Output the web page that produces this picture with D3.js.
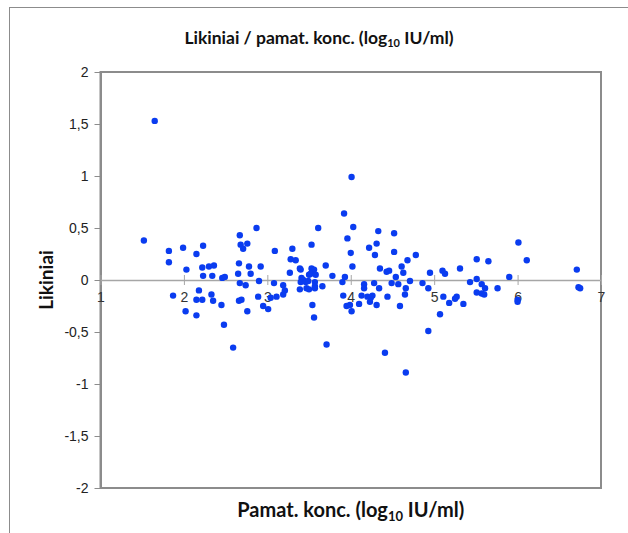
<!DOCTYPE html>
<html>
<head>
<meta charset="utf-8">
<script src="https://cdn.jsdelivr.net/npm/d3@7"></script>
<style>
  body { margin: 0; background: #fff; }
  svg { display: block; font-family: Lato, "Open Sans", sans-serif; }
</style>
</head>
<body>
<svg id="chart"></svg>
<script>
// Pamat. konc. (log10 IU/ml) vs likiniai
const xValues = [
  1.65, 1.52, 1.82, 1.99, 2.23, 2.15, 1.82, 2.03, 2.22, 2.30, 2.36, 2.23, 2.34, 2.46, 2.49,
  2.18, 1.87, 2.33, 2.15, 2.22, 2.35, 2.45, 2.02, 2.15, 2.48, 2.59,
  2.87, 2.67, 2.68, 2.76, 2.71, 3.09, 3.30, 3.53, 3.28, 3.34, 2.66, 2.78, 2.92, 2.65, 2.80,
  3.27, 2.90, 2.67, 2.74, 3.08, 3.19, 3.21, 3.19, 2.89, 2.66, 2.69, 3.04, 3.11, 2.95, 3.01, 2.76,
  3.39, 3.40, 3.53, 3.56, 3.54, 3.70, 3.78, 3.41, 3.43, 3.40, 3.50, 3.52, 3.58, 3.46, 3.49,
  3.57, 3.57, 3.66, 3.39, 3.47, 3.50, 3.57, 3.54, 3.56, 3.71, 3.61,
  4.01, 3.92, 4.03, 3.96, 4.00, 4.02, 3.93, 3.90, 3.91, 3.95, 3.99, 4.01, 4.10, 4.13, 4.20,
  4.24, 4.26, 4.23, 4.31, 4.16, 4.16, 4.28, 4.34, 4.35, 4.29, 4.22, 4.31, 4.33, 4.52, 4.52,
  4.78, 4.68, 4.61, 4.43, 4.46, 4.63, 4.54, 4.49, 4.57, 4.71, 4.86, 4.66, 4.93, 4.95, 5.10,
  5.13, 5.31, 4.44, 4.65, 4.59, 5.11, 5.18, 5.27, 5.25, 5.35, 5.07, 4.93, 4.41, 4.66,
  6.01, 6.11, 5.51, 5.65, 5.90, 5.51, 5.43, 5.57, 5.61, 5.76, 5.51, 5.57, 5.60, 6.00, 6.00,
  6.71, 6.73, 6.75
];
const yValues = [
  1.53, 0.38, 0.28, 0.31, 0.33, 0.25, 0.17, 0.10, 0.12, 0.13, 0.14, 0.04, 0.04, 0.02, 0.03,
  -0.10, -0.15, -0.14, -0.19, -0.19, -0.20, -0.24, -0.30, -0.34, -0.43, -0.65,
  0.50, 0.43, 0.34, 0.35, 0.30, 0.28, 0.30, 0.34, 0.20, 0.19, 0.16, 0.13, 0.13, 0.06, 0.06,
  0.07, -0.01, -0.03, -0.05, -0.03, -0.05, -0.10, -0.14, -0.16, -0.20, -0.19, -0.17, -0.16, -0.25, -0.28, -0.30,
  0.11, 0.10, 0.11, 0.10, 0.07, 0.14, 0.04, 0.02, 0.00, -0.02, 0.05, 0.06, 0.05, -0.02, -0.01,
  -0.02, -0.06, -0.06, -0.09, -0.08, -0.09, -0.08, -0.24, -0.36, -0.62, 0.50,
  0.99, 0.64, 0.51, 0.40, 0.26, 0.13, 0.03, -0.02, -0.15, -0.25, -0.24, -0.30, -0.23, -0.15, -0.16,
  -0.17, -0.15, -0.21, -0.24, -0.04, -0.08, -0.03, -0.08, 0.11, 0.24, 0.31, 0.35, 0.47, 0.45, 0.27,
  0.24, 0.19, 0.13, 0.08, 0.09, 0.07, 0.03, -0.03, -0.04, -0.01, -0.03, -0.08, -0.08, 0.07, 0.09,
  0.06, 0.11, -0.16, -0.14, -0.25, -0.16, -0.22, -0.16, -0.18, -0.23, -0.33, -0.49, -0.70, -0.89,
  0.36, 0.19, 0.20, 0.18, 0.03, 0.01, -0.02, -0.04, -0.08, -0.08, -0.12, -0.13, -0.14, -0.19, -0.21,
  0.10, -0.07, -0.08
];
const xTicks = [1, 2, 3, 4, 5, 6, 7];
const yTicks = [2, 1.5, 1, 0.5, 0, -0.5, -1, -1.5, -2];

const width = 628;
const height = 533;
const plot = { left: 100.5, right: 601, top: 72, bottom: 488 };

const svg = d3.select('#chart')
    .attr('width', width)
    .attr('height', height);

// Outer chart border
svg.append('rect')
    .attr('x', 9.5)
    .attr('y', 7.5)
    .attr('width', 640)
    .attr('height', 560)
    .attr('fill', 'none')
    .attr('stroke', '#8c8c8c')
    .attr('stroke-width', 1);

const x = d3.scaleLinear().domain([1, 7]).range([plot.left, plot.right]);
const y = d3.scaleLinear().domain([-2, 2]).range([plot.bottom, plot.top]);

const comma = d => String(d).replace('.', ',');

// Plot frame
svg.append('rect')
    .attr('x', plot.left)
    .attr('y', plot.top)
    .attr('width', plot.right - plot.left)
    .attr('height', plot.bottom - plot.top)
    .attr('fill', 'none')
    .attr('stroke', '#8c8c8c')
    .attr('stroke-width', 2);

// Y axis
const yAxis = svg.append('g')
    .attr('transform', `translate(${plot.left},0)`)
    .call(d3.axisLeft(y).tickValues(yTicks).tickFormat(comma).tickSize(6).tickSizeOuter(0));
yAxis.select('.domain').attr('stroke', '#8c8c8c').attr('stroke-width', 2);
yAxis.selectAll('.tick line').attr('stroke', '#8c8c8c').attr('stroke-width', 1);
yAxis.selectAll('.tick text')
    .attr('x', -12)
    .attr('fill', '#222')
    .style('font-size', '14px');

// X axis through zero, ticks crossing the line
const xAxis = svg.append('g')
    .attr('transform', `translate(0,${y(0)})`)
    .call(d3.axisBottom(x).tickValues(xTicks).tickFormat(d => String(d)).tickSize(5).tickSizeOuter(0));
xAxis.select('.domain').attr('stroke', '#a6a6a6').attr('stroke-width', 1.5);
xAxis.selectAll('.tick line')
    .attr('y1', -5)
    .attr('y2', 5)
    .attr('stroke', '#a6a6a6')
    .attr('stroke-width', 1);
xAxis.selectAll('.tick text')
    .attr('y', 12)
    .attr('fill', '#333')
    .style('font-size', '14px');

// Points
const points = xValues.map((v, i) => ({ x: v, y: yValues[i] }));
svg.append('g')
    .selectAll('circle')
    .data(points)
    .join('circle')
    .attr('cx', d => x(d.x))
    .attr('cy', d => y(d.y))
    .attr('r', 3.2)
    .attr('fill', '#0a3cf0');

// Title
const title = svg.append('text')
    .attr('x', 319)
    .attr('y', 44)
    .attr('text-anchor', 'middle')
    .attr('font-weight', 'bold')
    .style('font-size', '17.5px')
    .attr('fill', '#111');
title.append('tspan').text('Likiniai / pamat. konc. (log');
title.append('tspan').attr('dy', 3).style('font-size', '11px').text('10');
title.append('tspan').attr('dy', -3).text(' IU/ml)');

// X axis title
const xTitle = svg.append('text')
    .attr('x', (plot.left + plot.right) / 2)
    .attr('y', 517)
    .attr('text-anchor', 'middle')
    .attr('font-weight', 'bold')
    .style('font-size', '20px')
    .attr('fill', '#111');
xTitle.append('tspan').text('Pamat. konc. (log');
xTitle.append('tspan').attr('dy', 4).style('font-size', '13px').text('10');
xTitle.append('tspan').attr('dy', -4).text(' IU/ml)');

// Y axis title
svg.append('text')
    .attr('transform', `translate(53,${y(0)}) rotate(-90)`)
    .attr('text-anchor', 'middle')
    .attr('font-weight', 'bold')
    .style('font-size', '19px')
    .attr('fill', '#111')
    .text('Likiniai');
</script>
</body>
</html>
